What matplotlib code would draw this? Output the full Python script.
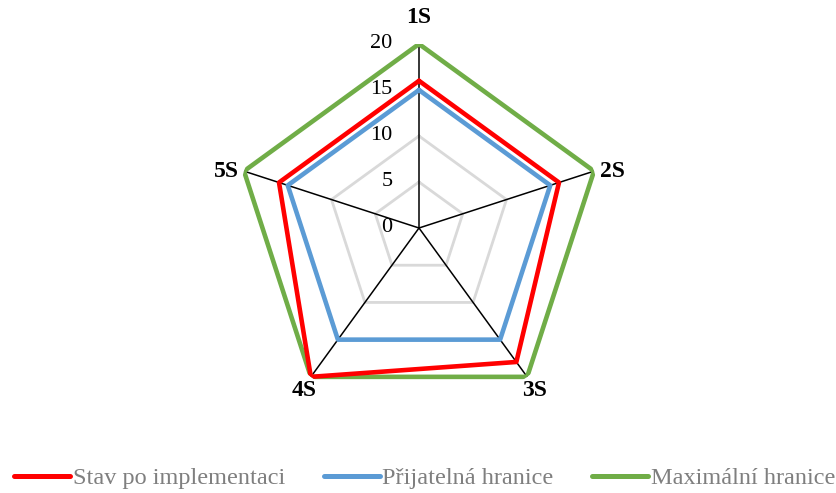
import numpy as np
import matplotlib
matplotlib.use('Agg')
from matplotlib import pyplot as plt

categories = ['1S', '2S', '3S', '4S', '5S']
stav = [16, 16, 18, 20, 16]
prijatelna = [15, 15, 15, 15, 15]
maximalni = [20, 20, 20, 20, 20]
ticks = [0, 5, 10, 15, 20]

plt.rcParams['font.family'] = ['Liberation Serif', 'DejaVu Serif']

n = len(categories)
angles = np.linspace(0, 2 * np.pi, n, endpoint=False)
ang_closed = np.append(angles, angles[0])

def closed(v):
    return np.append(v, v[0])

fig = plt.figure(figsize=(8.36, 4.93), dpi=100)
ax = fig.add_axes([235 / 836, 81 / 493, 368 / 836, 368 / 493], projection='polar')
ax.set_theta_zero_location('N')
ax.set_theta_direction(-1)
ax.set_ylim(0, 20)
ax.axis('off')

# polygon grid
for t in ticks[1:]:
    ax.plot(ang_closed, [t] * (n + 1), color='#D9D9D9', lw=2, zorder=1)
for a in angles:
    ax.plot([a, a], [0, 20], color='black', lw=1.1, zorder=2)

ax.plot(ang_closed, closed(maximalni), color='#70AD47', lw=3.3, zorder=3,
        label='Maximální hranice', solid_capstyle='round')
ax.plot(ang_closed, closed(prijatelna), color='#5B9BD5', lw=3.3, zorder=4,
        label='Přijatelná hranice', solid_capstyle='round')
ax.plot(ang_closed, closed(stav), color='#FF0000', lw=3.3, zorder=5,
        label='Stav po implementaci', solid_capstyle='round')

# value labels along top spoke
for t in ticks:
    ax.annotate(str(t), xy=(0, t), xytext=(-19, 0), textcoords='offset points',
                ha='right', va='center', fontsize=16, color='black')

# category labels
offsets = [(0, 19, 'center', 'center'), (4, 0, 'left', 'center'),
           (-4, -2, 'left', 'top'), (4, -2, 'right', 'top'),
           (-4, 0, 'right', 'center')]
for a, lab, (dx, dy, ha, va) in zip(angles, categories, offsets):
    ax.annotate(lab, xy=(a, 20), xytext=(dx, dy), textcoords='offset points',
                ha=ha, va=va, fontsize=17, fontweight='bold')

h, l = ax.get_legend_handles_labels()
order = [2, 1, 0]
leg = fig.legend([h[i] for i in order], [l[i] for i in order], loc='center',
                 bbox_to_anchor=(0.508, 15 / 493), ncol=3, frameon=False,
                 fontsize=17.5, handlelength=2.3, handletextpad=0.1,
                 columnspacing=1.6, labelcolor='#7F7F7F')
for line in leg.get_lines():
    line.set_linewidth(3.6)

fig.savefig('out.png', dpi=100)
